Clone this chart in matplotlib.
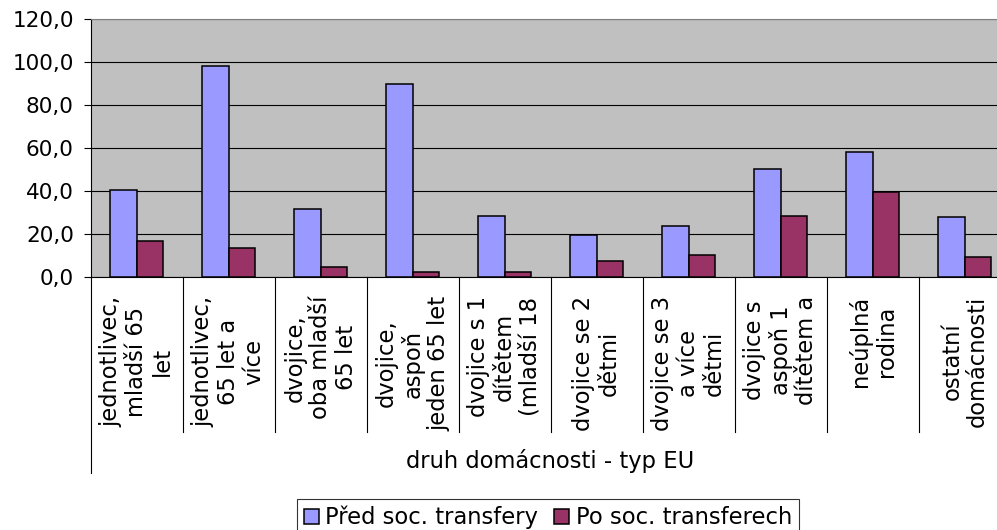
import numpy as np
import matplotlib
matplotlib.use("Agg")
import matplotlib.pyplot as plt
from matplotlib.patches import Patch

plt.rcParams["font.family"] = "DejaVu Sans"

# data
categories = [
    "jednotlivec,\nmladší 65\nlet",
    "jednotlivec,\n65 let a\nvíce",
    "dvojice,\noba mladší\n65 let",
    "dvojice,\naspoň\njeden 65 let",
    "dvojice s 1\ndítětem\n(mladší 18",
    "dvojice se 2\ndětmi",
    "dvojice se 3\na více\ndětmi",
    "dvojice s\naspoň 1\ndítětem a",
    "neúplná\nrodina",
    "ostatní\ndomácnosti",
]
pred = [40.6, 98.3, 31.5, 89.9, 28.5, 19.4, 23.9, 50.1, 58.3, 27.8]
po = [16.6, 13.6, 4.5, 2.5, 2.5, 7.3, 10.1, 28.5, 39.7, 9.2]
series_names = ["Před soc. transfery", "Po soc. transferech"]
yticks = [0, 20, 40, 60, 80, 100, 120]
axis_title = "druh domácnosti - typ EU"

col_pred = "#9999FF"
col_po = "#993366"
fs = 15.5      # tick numbers
fs_txt = 16.3  # words

W, H = 997, 530
fig = plt.figure(figsize=(W / 100, H / 100), dpi=100)
left, right, top, bottom = 90.5, 1010.7, 19, 277
ax = fig.add_axes([left / W, 1 - bottom / H, (right - left) / W, (bottom - top) / H])

x = np.arange(len(categories)) + 0.5
bw = 0.286
ax.bar(x - bw / 2, pred, bw, color=col_pred, edgecolor="black", linewidth=1.1, zorder=3)
ax.bar(x + bw / 2, po, bw, color=col_po, edgecolor="black", linewidth=1.1, zorder=3)

ax.set_xlim(0, len(categories))
ax.set_ylim(0, 120)
ax.set_facecolor("#C0C0C0")
ax.set_yticks(yticks)
ax.set_yticklabels([f"{v:.1f}".replace(".", ",") for v in yticks])
ax.yaxis.grid(True, color="black", linewidth=0.8)
ax.set_axisbelow(True)
ax.set_xticks([])
ax.tick_params(axis="y", labelsize=fs, length=5, width=0.8, pad=7)

ax.spines["right"].set_visible(False)
ax.spines["top"].set_color("#808080")
ax.spines["left"].set_linewidth(0.8)
ax.spines["bottom"].set_linewidth(0.8)

h = bottom - top
trans = ax.get_xaxis_transform()
# category separators below the axis
for i in range(1, len(categories)):
    ax.plot([i, i], [0, -(432 - bottom) / h], transform=trans, color="black",
            linewidth=0.8, clip_on=False)
ax.plot([0, 0], [0, -(473 - bottom) / h], transform=trans, color="black",
        linewidth=0.8, clip_on=False)

for xi, lab in zip(x, categories):
    ax.text(xi, -(296 - bottom) / h, lab, transform=trans, rotation=90,
            ha="center", va="top", multialignment="center", fontsize=fs_txt,
            linespacing=1.15)

ax.text(len(categories) / 2, -(461 - bottom) / h, axis_title, transform=trans,
        ha="center", va="center", fontsize=fs_txt)

handles = [Patch(facecolor=col_pred, edgecolor="black", linewidth=1.1),
           Patch(facecolor=col_po, edgecolor="black", linewidth=1.1)]
leg = fig.legend(handles, series_names, loc="upper left",
                 bbox_to_anchor=(297 / W, 1 - 499 / H), ncol=2, fontsize=fs_txt,
                 frameon=True, fancybox=False, edgecolor="black",
                 handlelength=0.65, handleheight=0.65, handletextpad=0.3,
                 columnspacing=0.7, borderpad=0.3, borderaxespad=0)
leg.get_frame().set_linewidth(0.8)

fig.savefig("out.png", dpi=100)
